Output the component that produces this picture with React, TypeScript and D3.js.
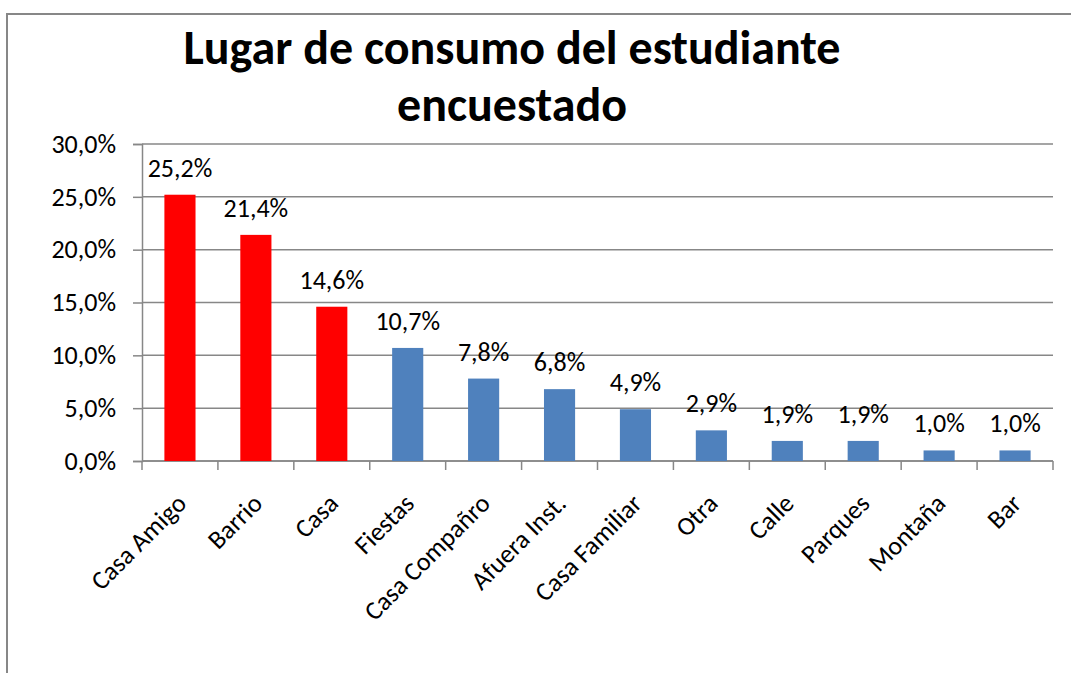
import React, { useEffect, useRef } from "react";
import { axisLeft, scaleBand, scaleLinear, select } from "d3";

const categories = [
  "Casa Amigo",
  "Barrio",
  "Casa",
  "Fiestas",
  "Casa Compañro",
  "Afuera Inst.",
  "Casa Familiar",
  "Otra",
  "Calle",
  "Parques",
  "Montaña",
  "Bar",
];
const values = [25.2, 21.4, 14.6, 10.7, 7.8, 6.8, 4.9, 2.9, 1.9, 1.9, 1.0, 1.0];
const highlighted = ["Casa Amigo", "Barrio", "Casa"];
const yTicks = [0, 5, 10, 15, 20, 25, 30];
const titleLines = ["Lugar de consumo del estudiante", "encuestado"];

const FONT = "Carlito, Calibri, Lato, sans-serif";
const fmt = (v: number) => v.toFixed(1).replace(".", ",") + "%";

const App = () => {
  const ref = useRef<SVGSVGElement>(null);

  useEffect(() => {
    const svg = select(ref.current);
    svg.selectAll("*").remove();

    // chart frame (only top and left edges fall inside the picture)
    svg
      .append("rect")
      .attr("x", 7)
      .attr("y", 14)
      .attr("width", 1200)
      .attr("height", 800)
      .attr("fill", "#fff")
      .attr("stroke", "#878787")
      .attr("stroke-width", 2);

    const left = 142;
    const right = 1053;
    const top = 144;
    const bottom = 461;

    const x = scaleBand().domain(categories).range([left, right]).paddingInner(0.59).paddingOuter(0.295);
    const xTicks = scaleBand().domain(categories).range([left, right]);
    const y = scaleLinear().domain([0, 30]).range([bottom, top]);

    // title
    svg
      .append("text")
      .attr("font-family", FONT)
      .attr("font-weight", "bold")
      .attr("font-size", 48)
      .attr("text-anchor", "middle")
      .selectAll("tspan")
      .data(titleLines)
      .join("tspan")
      .attr("x", 512)
      .attr("y", (d, i) => 64 + i * 57)
      .text((d) => d);

    // gridlines
    svg
      .append("g")
      .selectAll("line")
      .data(yTicks)
      .join("line")
      .attr("x1", left)
      .attr("x2", right)
      .attr("y1", (d) => y(d))
      .attr("y2", (d) => y(d))
      .attr("stroke", "#878787")
      .attr("stroke-width", 1.5);

    // y axis
    const yAxis = axisLeft(y).tickValues(yTicks).tickSize(9).tickPadding(17).tickFormat((d) => fmt(+d));
    const gy = svg.append("g").attr("transform", `translate(${left},0)`).call(yAxis);
    gy.selectAll("path, line").attr("stroke", "#878787").attr("stroke-width", 1.5);
    gy.selectAll("text").attr("font-family", FONT).attr("font-size", 26).attr("fill", "#000");

    // x axis with ticks at band edges
    const edges = categories.map((c) => xTicks(c) as number).concat([right]);
    const gx = svg.append("g");
    gx.append("line")
      .attr("x1", left)
      .attr("x2", right)
      .attr("y1", bottom)
      .attr("y2", bottom)
      .attr("stroke", "#878787")
      .attr("stroke-width", 1.5);
    gx.selectAll("line.tick")
      .data(edges)
      .join("line")
      .attr("class", "tick")
      .attr("x1", (d) => d)
      .attr("x2", (d) => d)
      .attr("y1", bottom)
      .attr("y2", bottom + 9)
      .attr("stroke", "#878787")
      .attr("stroke-width", 1.5);

    // category labels rotated -45
    svg
      .append("g")
      .selectAll("text")
      .data(categories)
      .join("text")
      .attr("font-family", FONT)
      .attr("font-size", 26)
      .attr("text-anchor", "end")
      .attr("transform", (d) => {
        const cx = (xTicks(d) as number) + xTicks.bandwidth() / 2 + 8;
        return `translate(${cx},${bottom + 44}) rotate(-45)`;
      })
      .text((d) => d);

    // bars
    svg
      .append("g")
      .selectAll("rect")
      .data(values)
      .join("rect")
      .attr("x", (d, i) => x(categories[i]) as number)
      .attr("y", (d) => y(d))
      .attr("width", x.bandwidth())
      .attr("height", (d) => bottom - y(d))
      .attr("fill", (d, i) => (highlighted.includes(categories[i]) ? "#FF0000" : "#4F81BD"));

    // data labels
    svg
      .append("g")
      .selectAll("text")
      .data(values)
      .join("text")
      .attr("font-family", FONT)
      .attr("font-size", 26)
      .attr("text-anchor", "middle")
      .attr("x", (d, i) => (x(categories[i]) as number) + x.bandwidth() / 2)
      .attr("y", (d) => y(d) - 18)
      .text((d) => fmt(d));
  }, []);

  return (
    <svg
      ref={ref}
      width={1071}
      height={673}
      style={{ position: "absolute", left: 0, top: 0, background: "#fff" }}
    />
  );
};

export default App;
